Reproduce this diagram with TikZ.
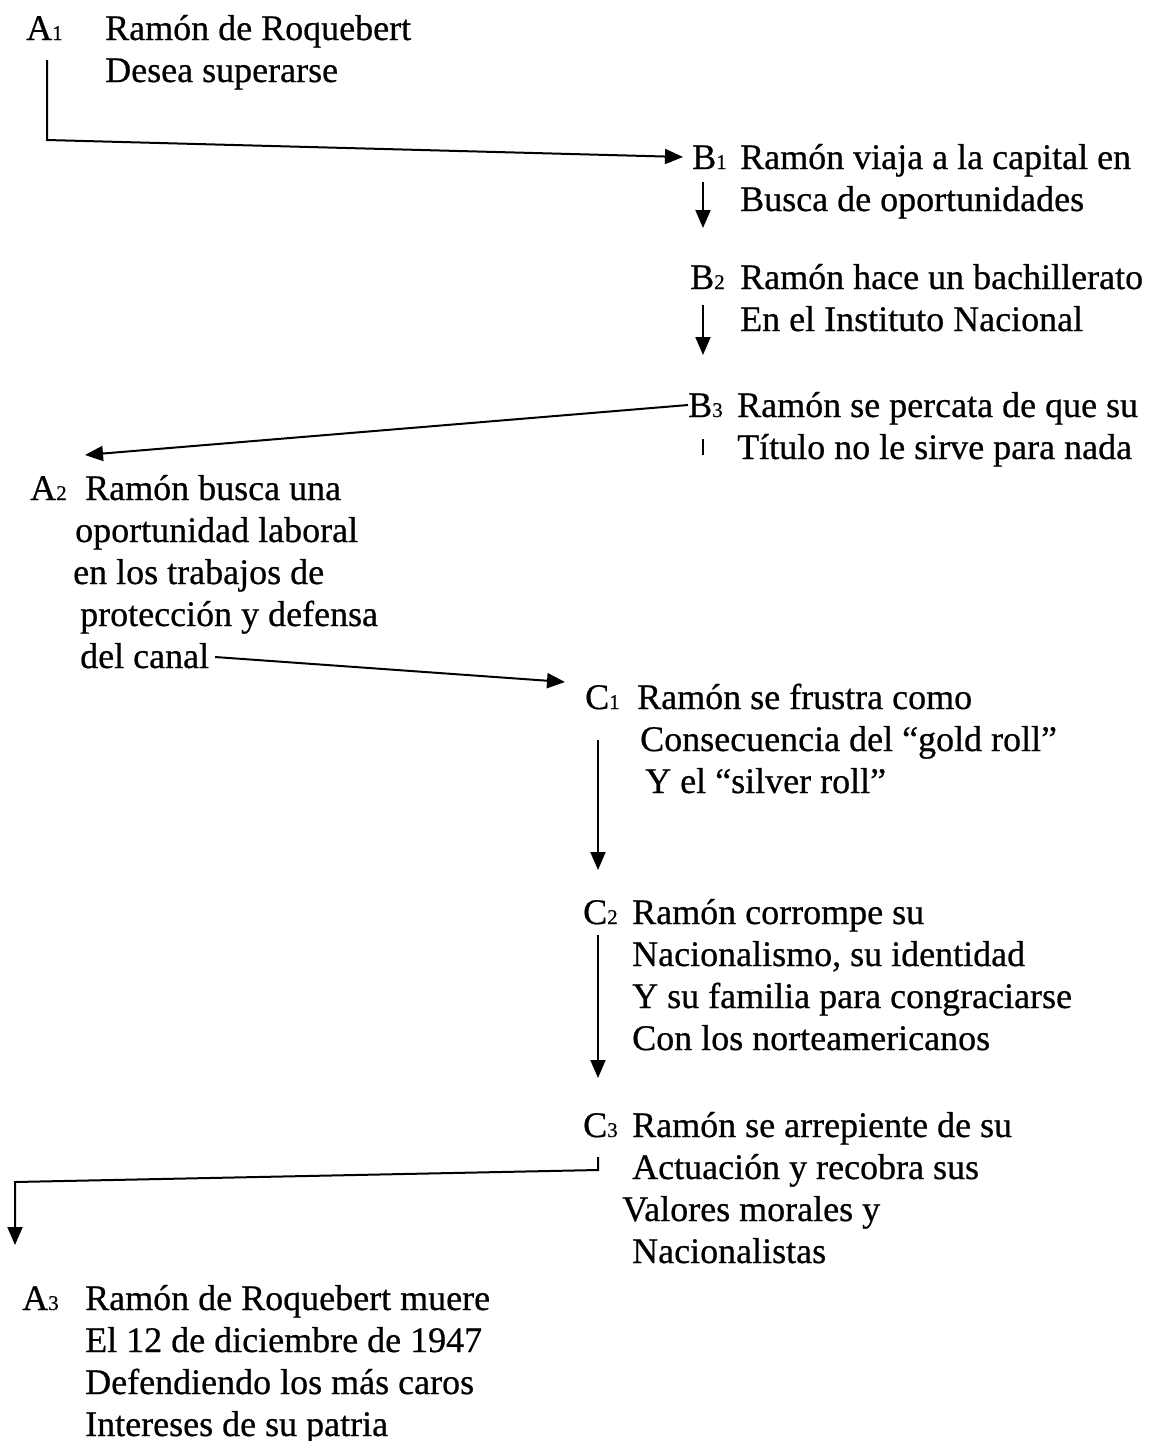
\documentclass[tikz,border=0pt]{standalone}
\usepackage{fontspec}
\setmainfont{Liberation Serif}[FakeBold=0.6]
\usetikzlibrary{arrows.meta,calc}
\tikzset{
  arr/.style={line width=2pt,-{Triangle[length=18pt,width=15pt]}},
  lab/.style={anchor=base west,inner sep=0pt},
  txt/.style={anchor=base west,inner sep=0pt},
}
\newcommand{\stage}[2]{#1{\fontsize{21}{21}\selectfont #2}}
\newcommand{\stagetext}[1]{\begin{tabular}[t]{@{}l@{}}#1\end{tabular}}
\begin{document}
\begin{tikzpicture}[x=1pt,y=-1pt,font=\fontsize{36}{42}\selectfont]
\useasboundingbox (0,0) rectangle (1156,1441);
% etapas
\node[lab] (a1) at (26,40) {\stage{A}{1}};
\node[txt] (a1t) at (105,40) {\stagetext{Ramón de Roquebert\\Desea superarse}};
\node[lab] (b1) at (692,169) {\stage{B}{1}};
\node[txt] (b1t) at (740,169) {\stagetext{Ramón viaja a la capital en\\Busca de oportunidades}};
\node[lab] (b2) at (690,289) {\stage{B}{2}};
\node[txt] (b2t) at (740,289) {\stagetext{Ramón hace un bachillerato\\En el Instituto Nacional}};
\node[lab] (b3) at (688,417) {\stage{B}{3}};
\node[txt] (b3t) at (737,417) {\stagetext{Ramón se percata de que su\\Título no le sirve para nada}};
\node[lab] (a2) at (30,500) {\stage{A}{2}};
\node[txt] (a2t) at (73,500) {\stagetext{\hspace*{12pt}Ramón busca una\\\hspace*{2pt}oportunidad laboral\\en los trabajos de\\\hspace*{7pt}protección y defensa\\\hspace*{7pt}del canal}};
\node[lab] (c1) at (585,709) {\stage{C}{1}};
\node[txt] (c1t) at (637,709) {\stagetext{Ramón se frustra como\\\hspace*{3pt}Consecuencia del “gold roll”\\\hspace*{8pt}Y el “silver roll”}};
\node[lab] (c2) at (583,924) {\stage{C}{2}};
\node[txt] (c2t) at (632,924) {\stagetext{Ramón corrompe su\\Nacionalismo, su identidad\\Y su familia para congraciarse\\Con los norteamericanos}};
\node[lab] (c3) at (583,1137) {\stage{C}{3}};
\node[txt] (c3t) at (622,1137) {\stagetext{\hspace*{10pt}Ramón se arrepiente de su\\\hspace*{10pt}Actuación y recobra sus\\Valores morales y\\\hspace*{10pt}Nacionalistas}};
\node[lab] (a3) at (22,1310) {\stage{A}{3}};
\node[txt] (a3t) at (85,1310) {\stagetext{Ramón de Roquebert muere\\El 12 de diciembre de 1947\\Defendiendo los más caros\\Intereses de su patria}};
% flechas
\coordinate (k1) at (47,140);
\coordinate (k2) at (15,1182);
\draw[arr] ($(a1.base west)+(21,20)$) -- (k1) -- ($(b1.base west)+(-9,-12)$);
\draw[arr] ($(b1.base west)+(11,13)$) -- ($(b2.base west)+(13,-61)$);
\draw[arr] ($(b2.base west)+(13,16)$) -- ($(b3.base west)+(15,-62)$);
\draw[line width=2pt] ($(b3.base west)+(15,22)$) -- ++(0,16);
\draw[arr] ($(b3.base west)+(0,-12)$) -- ($(a2.base west)+(55,-45)$);
\draw[arr] ($(a2.base west)+(185,157)$) -- ($(c1.base west)+(-20,-27)$);
\draw[arr] ($(c1.base west)+(13,31)$) -- ($(c2.base west)+(15,-54)$);
\draw[arr] ($(c2.base west)+(15,11)$) -- ($(c3.base west)+(15,-59)$);
\draw[arr] ($(c3.base west)+(15,20)$) -- ++(0,13) -- (k2) -- ($(a3.base west)+(-7,-65)$);
\end{tikzpicture}
\end{document}
